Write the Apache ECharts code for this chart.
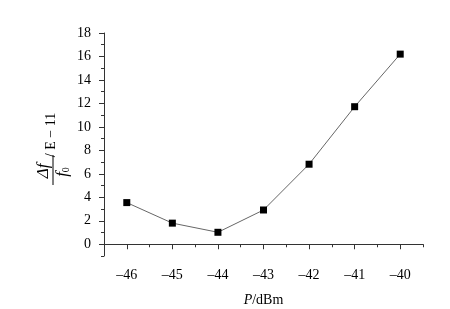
<!DOCTYPE html>
<html>
<head>
<meta charset="utf-8">
<script src="https://cdn.jsdelivr.net/npm/echarts@6/dist/echarts.min.js"></script>
<style>
    html, body {margin: 0; padding: 0; background: #fff;}
    #chart {width: 450px; height: 309px;}
</style>
</head>
<body>
<div id="chart"></div>
<script>
// power (dBm) and relative frequency shift (E-11)
var powers = [-46, -45, -44, -43, -42, -41, -40];
var shifts = [3.55, 1.8, 1.02, 2.92, 6.82, 11.72, 16.2];
var xLabels = [-46, -45, -44, -43, -42, -41, -40];
var xMinor = [-46.5, -45.5, -44.5, -43.5, -42.5, -41.5, -40.5, -39.5];
var yLabels = [0, 2, 4, 6, 8, 10, 12, 14, 16, 18];
var yMinor = [-1, 1, 3, 5, 7, 9, 11, 13, 15, 17];

var serif = "'Liberation Serif', 'DejaVu Serif', serif";
var axisColor = '#333';

var points = [];
for (var i = 0; i < powers.length; i++) {
    points.push([powers[i], shifts[i]]);
}

var dash = function (v) {
    return String(v).replace('-', '\u2013');
};

var myChart = echarts.init(document.getElementById('chart'));
var option = {
    animation: false,
    grid: {left: 104, right: 27, top: 33, bottom: 53, outerBoundsMode: 'none', containLabel: false},
    xAxis: [
        {
            type: 'value', min: -46.5, max: -39.5,
            splitLine: {show: false},
            axisLine: {lineStyle: {color: axisColor, width: 1}},
            axisTick: {customValues: xLabels, length: 5, lineStyle: {color: axisColor}},
            axisLabel: {customValues: xLabels, formatter: dash, color: '#000', fontFamily: serif, fontSize: 14, margin: 12},
            name: '{i|P}/dBm',
            nameLocation: 'middle',
            nameGap: 37,
            nameTextStyle: {
                color: '#000', fontFamily: serif, fontSize: 14,
                rich: {i: {fontStyle: 'italic', fontFamily: serif, fontSize: 14, color: '#000'}}
            }
        },
        {
            type: 'value', min: -46.5, max: -39.5, position: 'bottom',
            splitLine: {show: false},
            axisLine: {show: false},
            axisTick: {customValues: xMinor, length: 3, lineStyle: {color: axisColor}},
            axisLabel: {show: false}
        }
    ],
    yAxis: [
        {
            type: 'value', min: -1, max: 18,
            splitLine: {show: false},
            axisLine: {show: true, lineStyle: {color: axisColor, width: 1}},
            axisTick: {show: true, customValues: yLabels, length: 5, lineStyle: {color: axisColor}},
            axisLabel: {customValues: yLabels, color: '#000', fontFamily: serif, fontSize: 14, margin: 13}
        },
        {
            type: 'value', min: -1, max: 18, position: 'left',
            splitLine: {show: false},
            axisLine: {show: false},
            axisTick: {show: true, customValues: yMinor, length: 3, lineStyle: {color: axisColor}},
            axisLabel: {show: false}
        }
    ],
    graphic: [
        {
            type: 'text', x: 44, y: 171, rotation: Math.PI / 2,
            style: {text: '\u0394f', font: 'italic 17px ' + serif, fill: '#000', align: 'center', verticalAlign: 'middle'}
        },
        {
            type: 'line',
            shape: {x1: 53, y1: 155, x2: 53, y2: 185},
            style: {stroke: '#000', lineWidth: 1}
        },
        {
            type: 'text', x: 63, y: 172, rotation: Math.PI / 2,
            style: {
                text: '{i|f}{s|0}', align: 'center', verticalAlign: 'middle',
                rich: {
                    i: {fontStyle: 'italic', fontFamily: serif, fontSize: 17, fill: '#000'},
                    s: {fontFamily: serif, fontSize: 10, fill: '#000', verticalAlign: 'bottom', padding: [7, 0, 0, 0]}
                }
            }
        },
        {
            type: 'text', x: 51, y: 135, rotation: Math.PI / 2,
            style: {text: '/ E \u2212 11', font: '14px ' + serif, fill: '#000', align: 'center', verticalAlign: 'middle'}
        }
    ],
    series: [
        {
            type: 'line',
            data: points,
            symbol: 'rect',
            symbolSize: 7,
            itemStyle: {color: '#000'},
            lineStyle: {color: '#666', width: 1}
        }
    ]
};
myChart.setOption(option);
</script>
</body>
</html>
